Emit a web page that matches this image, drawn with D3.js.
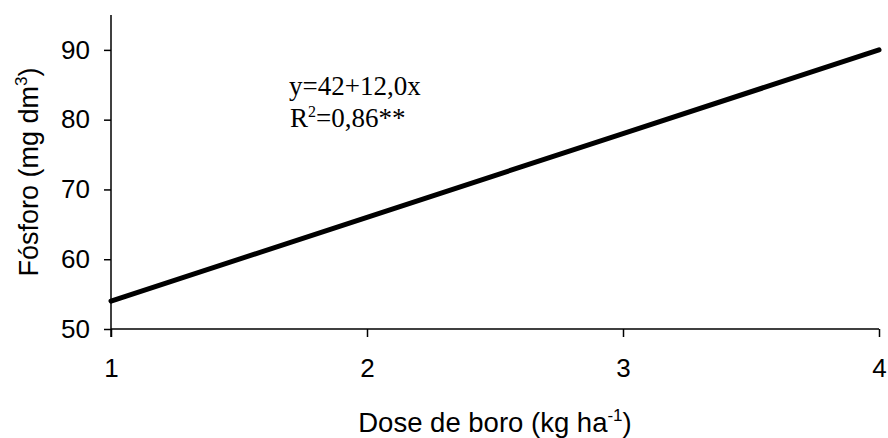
<!DOCTYPE html>
<html>
<head>
<meta charset="utf-8">
<script src="https://cdn.jsdelivr.net/npm/d3@7"></script>
<style>
  html, body { margin: 0; padding: 0; background: #fff; }
  svg { display: block; }
  .tick text { font-family: "Liberation Sans", Arial, sans-serif; }
</style>
</head>
<body>
<svg id="chart" width="888" height="438"></svg>
<script>
// Fitted regression: y = 42 + 12.0x, evaluated at the dose levels
const doses = [1, 2, 3, 4];
const phosphorus = [54, 66, 78, 90];
const xTicks = [1, 2, 3, 4];
const yTicks = [50, 60, 70, 80, 90];
const equationLines = ["y=42+12,0x", "R2=0,86**"];

const width = 888, height = 438;
const margin = { top: 15, right: 9, bottom: 109, left: 111 };

const svg = d3.select("#chart");

const x = d3.scaleLinear().domain([1, 4]).range([margin.left, width - margin.right]);
const y = d3.scaleLinear().domain([50, 95]).range([height - margin.bottom, margin.top]);

const sans = "'Liberation Sans', Arial, sans-serif";
const serif = "'Liberation Serif', 'Times New Roman', serif";

// X axis
const xAxis = svg.append("g")
  .attr("transform", `translate(0,${y(50)})`)
  .call(d3.axisBottom(x).tickValues(xTicks).tickFormat(d3.format("d")).tickSize(8).tickPadding(22));
xAxis.selectAll("text").attr("font-size", 26).attr("fill", "#000").attr("font-family", sans);

// Y axis
const yAxis = svg.append("g")
  .attr("transform", `translate(${x(1)},0)`)
  .call(d3.axisLeft(y).tickValues(yTicks).tickFormat(d3.format("d")).tickSize(7).tickPadding(14));
yAxis.selectAll("text").attr("font-size", 26).attr("fill", "#000").attr("font-family", sans);

[xAxis, yAxis].forEach(g => {
  g.select(".domain").attr("stroke", "#000").attr("stroke-width", 1.5);
  g.selectAll(".tick line").attr("stroke", "#000").attr("stroke-width", 1.5);
});
// x axis runs flat between the end ticks; y axis continues through the bottom tick
xAxis.select(".domain").attr("d", `M${x(1)},0H${x(4)}`);
xAxis.selectAll(".tick line").attr("y2", 8);
yAxis.select(".domain").attr("d", `M0,${y(95)}V${y(50) + 8}`);

// Regression line
const line = d3.line().x((d, i) => x(doses[i])).y(d => y(d));
svg.append("path")
  .datum(phosphorus)
  .attr("d", line)
  .attr("fill", "none")
  .attr("stroke", "#000")
  .attr("stroke-width", 5)
  .attr("stroke-linecap", "round");

// Equation annotation
const eq = svg.append("g").attr("font-family", serif).attr("font-size", 27).attr("fill", "#000");
eq.append("text").attr("x", 289).attr("y", 95).text(equationLines[0]);
const r2 = eq.append("text").attr("x", 290).attr("y", 127);
r2.append("tspan").text("R");
r2.append("tspan").attr("font-size", 16).attr("dy", -10).text("2");
r2.append("tspan").attr("dy", 10).text("=0,86**");

// Axis titles
const xt = svg.append("text")
  .attr("x", (x(1) + x(4)) / 2).attr("y", 432)
  .attr("text-anchor", "middle")
  .attr("font-family", sans).attr("font-size", 27.5).attr("fill", "#000");
xt.append("tspan").text("Dose de boro (kg ha");
xt.append("tspan").attr("font-size", 17).attr("dy", -11).text("-1");
xt.append("tspan").attr("dy", 11).text(")");

const yt = svg.append("text")
  .attr("transform", `translate(38,${(y(50) + y(95)) / 2}) rotate(-90)`)
  .attr("text-anchor", "middle")
  .attr("font-family", sans).attr("font-size", 27).attr("fill", "#000");
yt.append("tspan").text("Fósforo (mg dm");
yt.append("tspan").attr("font-size", 17).attr("dy", -11).text("3");
yt.append("tspan").attr("dy", 11).text(")");
</script>
</body>
</html>
